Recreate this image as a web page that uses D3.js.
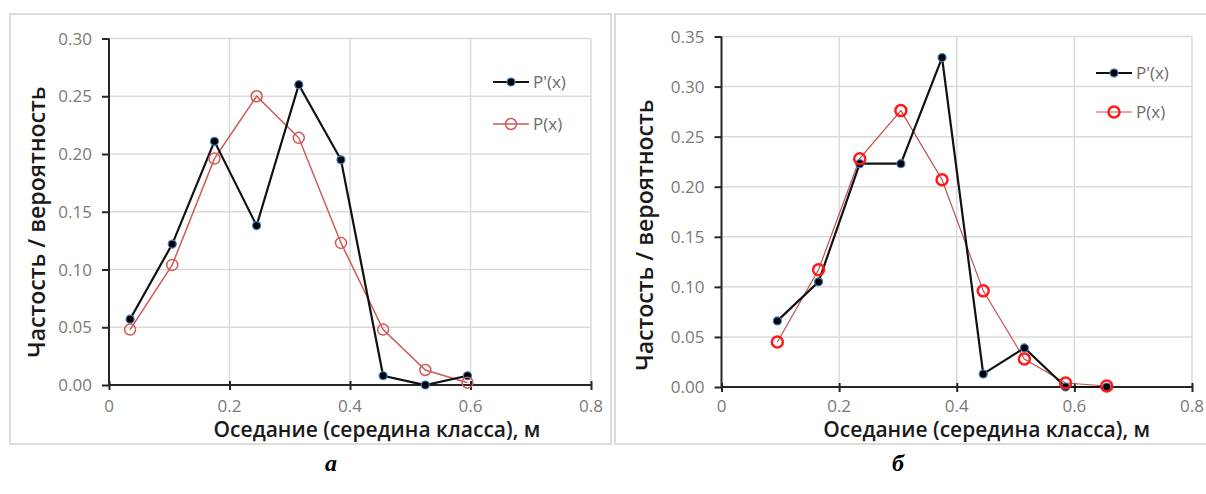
<!DOCTYPE html>
<html>
<head>
<meta charset="utf-8">
<script src="https://cdn.jsdelivr.net/npm/d3@7"></script>
<style>
	body { margin: 0; background: #fff; }
	svg { display: block; }
	.tick-label { font-family: "Open Sans", sans-serif; fill: #7a7a7a; }
	.title { font-family: "Open Sans", sans-serif; font-weight: 600; fill: #1a1a1a; }
	.legend-text { font-family: "Open Sans", sans-serif; fill: #6b6b6b; }
	.panel-label { font-family: "Liberation Serif", "DejaVu Serif", serif; font-weight: bold; font-style: italic; fill: #000; }
</style>
</head>
<body>
<script>

//class midpoints (m) and values
var xMidA = [0.035, 0.105, 0.175, 0.245, 0.315, 0.385, 0.455, 0.525, 0.595],
	freqA = [0.057, 0.122, 0.211, 0.138, 0.260, 0.195, 0.008, 0.000, 0.008],
	probA = [0.048, 0.104, 0.196, 0.250, 0.214, 0.123, 0.048, 0.013, 0.002];

var xMidB = [0.095, 0.165, 0.235, 0.305, 0.375, 0.445, 0.515, 0.585, 0.655],
	freqB = [0.066, 0.105, 0.223, 0.223, 0.329, 0.013, 0.039, 0.000, 0.000],
	probB = [0.045, 0.117, 0.228, 0.276, 0.207, 0.096, 0.028, 0.004, 0.001];

//axes
var xTicks = [0, 0.2, 0.4, 0.6, 0.8],
	yTicksA = [0, 0.05, 0.10, 0.15, 0.20, 0.25, 0.30],
	yTicksB = [0, 0.05, 0.10, 0.15, 0.20, 0.25, 0.30, 0.35];

var seriesNames = ["P'(x)", "P(x)"],
	xTitle = "Оседание (середина класса), м",
	yTitle = "Частость / вероятность",
	panelLabels = ["а", "б"];

var W = 1206, H = 494;

var svg = d3.select("body").append("svg")
	.attr("width", W)
	.attr("height", H);

//////////////
// one panel
//////////////
function drawPanel(p){
	var g = svg.append("g");

	//frame
	g.append("rect")
		.attr("x", p.frame[0]).attr("y", p.frame[1])
		.attr("width", p.frame[2]).attr("height", p.frame[3])
		.style("fill", "none")
		.style("stroke", "#dcdcdc")
		.style("stroke-width", 2);

	var xScale = d3.scaleLinear().domain([0, 0.8]).range([p.left, p.right]),
		yScale = d3.scaleLinear().domain([0, d3.max(p.yTicks)]).range([p.bottom, p.top]);

	//grid
	g.append("g").selectAll("line")
		.data(p.yTicks.slice(1)).enter()
			.append("line")
			.attr("x1", p.left).attr("x2", p.right)
			.attr("y1", function(d){ return yScale(d); })
			.attr("y2", function(d){ return yScale(d); })
			.style("stroke", "#dadada").style("stroke-width", 1.5);
	g.append("g").selectAll("line")
		.data(xTicks.slice(1)).enter()
			.append("line")
			.attr("x1", function(d){ return xScale(d); })
			.attr("x2", function(d){ return xScale(d); })
			.attr("y1", p.top).attr("y2", p.bottom)
			.style("stroke", "#dadada").style("stroke-width", 1.5);

	//y axis
	var yAxis = d3.axisLeft(yScale).tickValues(p.yTicks).tickSize(7).tickFormat("");
	var gy = g.append("g")
		.attr("transform", "translate(" + p.left + ",0)")
		.call(yAxis);
	gy.select(".domain").attr("d", "M0," + p.top + "V" + p.bottom);
	gy.selectAll("path, line").style("stroke", "#262626").style("stroke-width", 2);

	//x axis, ticks cross the line
	var xAxis = d3.axisBottom(xScale).tickValues(xTicks).tickSize(5).tickFormat("");
	var gx = g.append("g")
		.attr("transform", "translate(0," + p.bottom + ")")
		.call(xAxis);
	gx.select(".domain").attr("d", "M" + p.left + ",0H" + p.right);
	gx.selectAll(".tick line").attr("y1", -4);
	gx.selectAll("path, line").style("stroke", "#262626").style("stroke-width", 2);

	//tick labels
	g.append("g").selectAll("text")
		.data(p.yTicks).enter()
			.append("text")
			.attr("class", "tick-label")
			.attr("x", p.left - 17)
			.attr("y", function(d){ return yScale(d) + 6; })
			.style("text-anchor", "end")
			.style("font-size", "17px")
			.text(function(d){ return d3.format(".2f")(d); });
	g.append("g").selectAll("text")
		.data(xTicks).enter()
			.append("text")
			.attr("class", "tick-label")
			.attr("x", function(d){ return xScale(d); })
			.attr("y", 412)
			.style("text-anchor", "middle")
			.style("font-size", "17px")
			.text(function(d){ return d; });

	//titles
	g.append("text")
		.attr("class", "title")
		.attr("x", (p.left + p.right)/2 + p.xTitleShift)
		.attr("y", 437)
		.style("text-anchor", "middle")
		.style("font-size", "21px")
		.text(xTitle);
	g.append("text")
		.attr("class", "title")
		.attr("transform", "translate(" + p.yTitleX + "," + p.yTitleY + ") rotate(-90)")
		.attr("y", 8)
		.style("text-anchor", "middle")
		.style("font-size", "23px")
		.text(yTitle);

	//series
	var freq = p.x.map(function(d, i){ return {x: d, y: p.freq[i]}; }),
		prob = p.x.map(function(d, i){ return {x: d, y: p.prob[i]}; });
	var line = d3.line()
		.x(function(d){ return xScale(d.x); })
		.y(function(d){ return yScale(d.y); });

	g.append("path").datum(prob)
		.attr("d", line)
		.style("fill", "none")
		.style("stroke", p.probLine)
		.style("stroke-width", p.probLineW);
	g.append("path").datum(freq)
		.attr("d", line)
		.style("fill", "none")
		.style("stroke", "#111")
		.style("stroke-width", 2.2);

	g.append("g").selectAll("circle")
		.data(freq).enter()
			.append("circle")
			.attr("cx", function(d){ return xScale(d.x); })
			.attr("cy", function(d){ return yScale(d.y); })
			.attr("r", 4)
			.style("fill", "#000")
			.style("stroke", "#3d7fc4")
			.style("stroke-width", 1.2);
	g.append("g").selectAll("circle")
		.data(prob).enter()
			.append("circle")
			.attr("cx", function(d){ return xScale(d.x); })
			.attr("cy", function(d){ return yScale(d.y); })
			.attr("r", p.probR)
			.style("fill", "none")
			.style("stroke", p.probMark)
			.style("stroke-width", p.probMarkW);

	//legend
	var lg = g.append("g").attr("transform", "translate(" + p.legend[0] + "," + p.legend[1] + ")");
	seriesNames.forEach(function(name, j){
		var row = lg.append("g").attr("transform", "translate(0," + (j * p.legendGap) + ")");
		row.append("line")
			.attr("x1", 0).attr("x2", 36).attr("y1", 0).attr("y2", 0)
			.style("stroke", j == 0 ? "#111" : p.probLine)
			.style("stroke-width", j == 0 ? 2.2 : p.probLineW);
		if (j == 0){
			row.append("circle").attr("cx", 18).attr("r", 4)
				.style("fill", "#000").style("stroke", "#3d7fc4").style("stroke-width", 1.2);
		} else {
			row.append("circle").attr("cx", 18).attr("r", p.probR)
				.style("fill", "none").style("stroke", p.probMark).style("stroke-width", p.probMarkW);
		}
		row.append("text")
			.attr("class", "legend-text")
			.attr("x", 40)
			.attr("y", 6)
			.style("font-size", "17px")
			.text(name);
	});

	//panel letter
	g.append("text")
		.attr("class", "panel-label")
		.attr("x", p.labelX)
		.attr("y", 471)
		.style("text-anchor", "middle")
		.style("font-size", "24px")
		.text(p.label);
}

drawPanel({
	frame: [10, 14, 601, 430],
	left: 109, right: 591, top: 38.5, bottom: 385,
	yTicks: yTicksA, x: xMidA, freq: freqA, prob: probA,
	probLine: "#cf5a57", probLineW: 1.5, probMark: "#cf5a57", probMarkW: 1.5, probR: 5.5,
	legend: [493, 82], legendGap: 42,
	xTitleShift: 27, yTitleX: 37, yTitleY: 222,
	labelX: 331, label: panelLabels[0]
});

drawPanel({
	frame: [615, 14, 600, 430],
	left: 721.5, right: 1192, top: 36.5, bottom: 387,
	yTicks: yTicksB, x: xMidB, freq: freqB, prob: probB,
	probLine: "#c0504d", probLineW: 1.2, probMark: "#ff1a1a", probMarkW: 2.5, probR: 5.5,
	legend: [1096, 73], legendGap: 39,
	xTitleShift: 30, yTitleX: 645, yTitleY: 235,
	labelX: 898, label: panelLabels[1]
});

</script>
</body>
</html>
